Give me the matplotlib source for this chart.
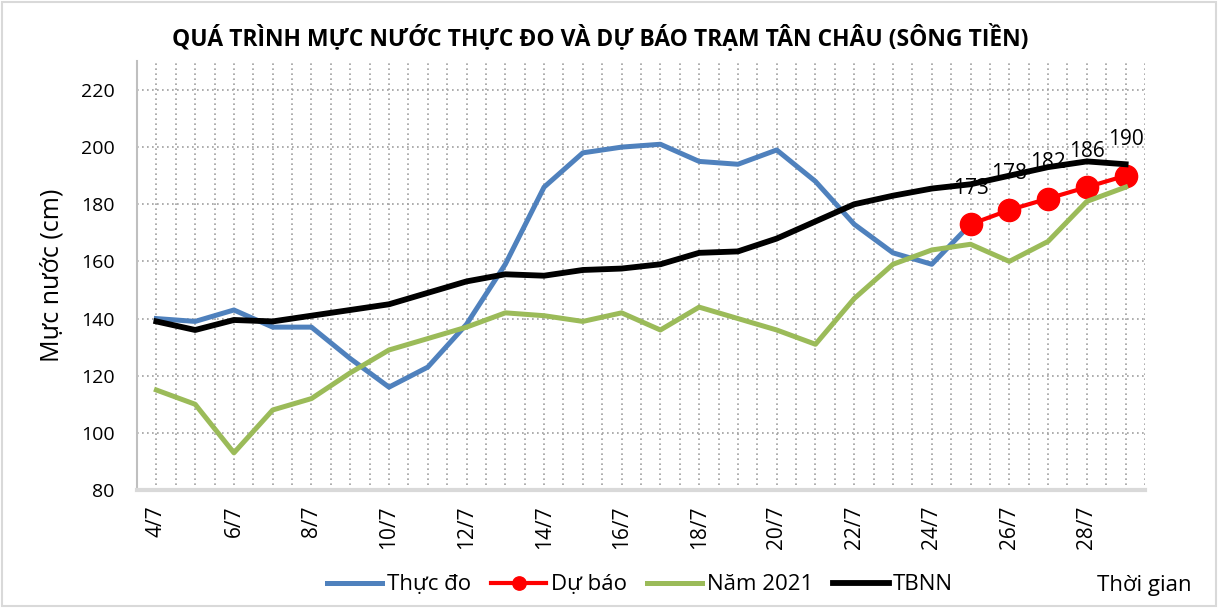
import numpy as np
import matplotlib
matplotlib.use("Agg")
import matplotlib.pyplot as plt
from matplotlib.patches import Rectangle

plt.rcParams['font.family'] = ['Open Sans', 'DejaVu Sans']

# data
days = ['4/7', '5/7', '6/7', '7/7', '8/7', '9/7', '10/7', '11/7', '12/7', '13/7',
        '14/7', '15/7', '16/7', '17/7', '18/7', '19/7', '20/7', '21/7', '22/7',
        '23/7', '24/7', '25/7', '26/7', '27/7', '28/7', '29/7']

thuc_do = [140, 139, 143, 137, 137, 126, 116, 123, 138, 159,
           186, 198, 200, 201, 195, 194, 199, 188, 173, 163, 159, 173]

du_bao_days = ['25/7', '26/7', '27/7', '28/7', '29/7']
du_bao = [173, 178, 182, 186, 190]

nam_2021 = [115, 110, 93, 108, 112, 121, 129, 133, 137, 142,
            141, 139, 142, 136, 144, 140, 136, 131, 147, 159,
            164, 166, 160, 167, 181, 186]

tbnn = [139, 136, 139.5, 139, 141, 143, 145, 149, 153, 155.5,
        155, 157, 157.5, 159, 163, 163.5, 168, 174, 180, 183,
        185.5, 187, 190, 193, 195, 194]

x = np.arange(len(days))
x_du_bao = np.array([days.index(d) for d in du_bao_days])

fig = plt.figure(figsize=(12.18, 6.08), dpi=100)
ax = fig.add_axes([137/1218, 1-490/608, (1145-137)/1218, (490-61.4)/608])

ax.plot(x[:len(thuc_do)], thuc_do, color='#4F81BD', lw=3.6, label='Thực đo', zorder=3)
ax.plot(x_du_bao, du_bao, color='#FF0000', lw=3.0, marker='o', markersize=16,
        label='Dự báo', zorder=4)
ax.plot(x, nam_2021, color='#9BBB59', lw=3.6, label='Năm 2021', zorder=5)
ax.plot(x, tbnn, color='#000000', lw=4.2, label='TBNN', zorder=6)

for xi, v in zip(x_du_bao, du_bao):
    ax.annotate(str(v), (xi, v), xytext=(0, 26), textcoords='offset points',
                ha='center', va='center', fontsize=15, zorder=7)

ax.set_xlim(-0.5, len(days) - 0.5)
ax.set_ylim(80, 230)
ax.set_yticks(np.arange(80, 221, 20))
ax.set_xticks(x[::2])
ax.set_xticklabels(days[::2], rotation=90, fontsize=15)
ax.tick_params(axis='y', labelsize=14, length=0, pad=16)
ax.tick_params(axis='x', length=0, pad=11)

# dotted grid: horizontal at each major tick, vertical every half day
for v in np.arange(100, 221, 20):
    ax.axhline(v, color='#A0A0A0', lw=1.2, ls=(0, (1, 2)), zorder=1)
for xv in np.arange(-0.5, len(days), 0.5):
    ax.axvline(xv, color='#A0A0A0', lw=1.2, ls=(0, (1, 2)), zorder=1)

for side in ['top', 'right']:
    ax.spines[side].set_visible(False)
ax.spines['left'].set_color('#BFBFBF')
ax.spines['left'].set_linewidth(1.5)
ax.spines['bottom'].set_color('#D9D9D9')
ax.spines['bottom'].set_linewidth(3)

ax.set_ylabel('Mực nước (cm)', fontsize=18, labelpad=12)

fig.text(600/1218, 1-38/608, 'QUÁ TRÌNH MỰC NƯỚC THỰC ĐO VÀ DỰ BÁO TRẠM TÂN CHÂU (SÔNG TIỀN)',
         ha='center', va='center', fontsize=16.5, fontweight='bold')
fig.text(1192/1218, 1-586/608, 'Thời gian', ha='right', va='center', fontsize=16)

fig.legend(loc='center', bbox_to_anchor=(640/1218, 1-585/608), ncol=4, frameon=False,
           fontsize=16, handlelength=2.5, columnspacing=0.9, handletextpad=0.2,
           markerscale=0.6)

fig.patches.append(Rectangle((0.002, 0.003), 0.996, 0.994, transform=fig.transFigure,
                             fill=False, edgecolor='#D9D9D9', lw=1.5))

fig.savefig('out.png', dpi=100)
